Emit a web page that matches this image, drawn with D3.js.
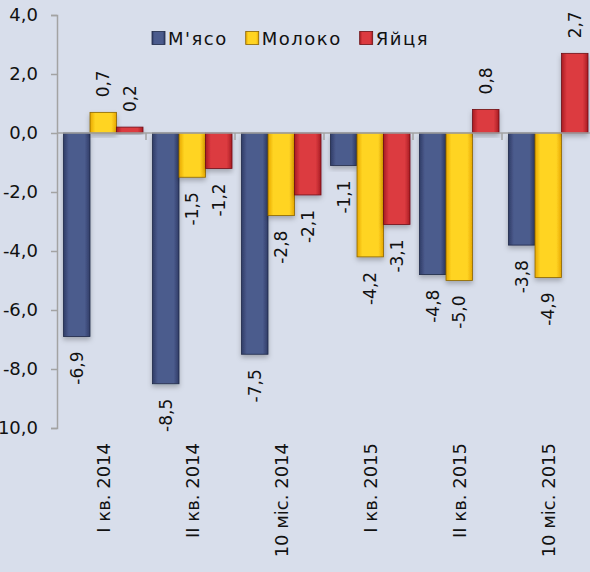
<!DOCTYPE html>
<html>
<head>
<meta charset="utf-8">
<script src="https://cdn.jsdelivr.net/npm/d3@7"></script>
<style>
  html, body { margin: 0; padding: 0; background: #d8deeb; }
  svg { display: block; font-family: "DejaVu Sans", sans-serif; }
</style>
</head>
<body>
<svg id="chart" width="590" height="572"></svg>
<script>
const categories = ['I кв. 2014', 'II кв. 2014', '10 міс. 2014', 'I кв. 2015', 'II кв. 2015', '10 міс. 2015'];
const seriesNames = ["М'ясо", 'Молоко', 'Яйця'];
const meat = [-6.9, -8.5, -7.5, -1.1, -4.8, -3.8];
const milk = [0.7, -1.5, -2.8, -4.2, -5.0, -4.9];
const eggs = [0.2, -1.2, -2.1, -3.1, 0.8, 2.7];
const yTicks = [4, 2, 0, -2, -4, -6, -8, -10];

const colors = [
  { edge: '#2f3c66', mid: '#4b5b8d', stroke: '#1f2947' },
  { edge: '#e8a800', mid: '#ffd422', stroke: '#8a6400' },
  { edge: '#a81c22', mid: '#dc3a40', stroke: '#6e1014' }
];

const svg = d3.select('#chart');
const W = 590, H = 572;
const mLeft = 57, mRight = 591, mTop = 15, mBottom = 428;

const fmt = v => d3.format('.1f')(v).replace('.', ',').replace('−', '-');

const y = d3.scaleLinear().domain([-10, 4]).range([mBottom, mTop]);
const x0 = d3.scaleBand().domain(categories).range([mLeft, mRight]);
const x1 = d3.scaleBand().domain(seriesNames).range([6.5, 86]);

const defs = svg.append('defs');
colors.forEach((c, i) => {
  const g = defs.append('linearGradient').attr('id', 'g' + i).attr('x1', 0).attr('x2', 1).attr('y1', 0).attr('y2', 0);
  g.append('stop').attr('offset', 0).attr('stop-color', c.edge);
  g.append('stop').attr('offset', 0.2).attr('stop-color', c.mid);
  g.append('stop').attr('offset', 0.8).attr('stop-color', c.mid);
  g.append('stop').attr('offset', 1).attr('stop-color', c.edge);
});
const f = defs.append('filter').attr('id', 'shadow').attr('x', '-20%').attr('y', '-20%').attr('width', '140%').attr('height', '140%');
f.append('feDropShadow').attr('dx', 0).attr('dy', 3).attr('stdDeviation', 2.5).attr('flood-color', '#000').attr('flood-opacity', 0.25);

const rows = categories.map((c, i) => ({ cat: c, vals: [meat[i], milk[i], eggs[i]] }));

// bars
const groups = svg.append('g').selectAll('g').data(rows).join('g')
  .attr('transform', d => `translate(${x0(d.cat)},0)`);

groups.selectAll('rect').data(d => d.vals.map((v, j) => ({ v, j }))).join('rect')
  .attr('x', d => x1(seriesNames[d.j]))
  .attr('width', x1.bandwidth())
  .attr('y', d => y(Math.max(0, d.v)))
  .attr('height', d => Math.abs(y(d.v) - y(0)))
  .attr('fill', d => `url(#g${d.j})`)
  .attr('stroke', d => colors[d.j].stroke)
  .attr('stroke-width', 0.8)
  .attr('filter', 'url(#shadow)');

// data labels
groups.selectAll('text').data(d => d.vals.map((v, j) => ({ v, j }))).join('text')
  .attr('transform', d => {
    const cx = x1(seriesNames[d.j]) + x1.bandwidth() / 2;
    const cy = d.v >= 0 ? y(d.v) - 15 : y(d.v) + 15;
    return `translate(${cx},${cy}) rotate(-90)`;
  })
  .attr('text-anchor', d => d.v >= 0 ? 'start' : 'end')
  .attr('dominant-baseline', 'central')
  .attr('font-size', 17)
  .attr('fill', '#111')
  .text(d => fmt(d.v));

// y axis
const yAxis = svg.append('g').attr('transform', `translate(${mLeft},0)`)
  .call(d3.axisLeft(y).tickValues(yTicks).tickSize(6).tickPadding(13).tickFormat(fmt));
yAxis.select('.domain').attr('stroke', '#a3a3a3').attr('stroke-width', 1.5);
yAxis.selectAll('.tick line').attr('stroke', '#a3a3a3').attr('stroke-width', 1.5);
yAxis.selectAll('.tick text').attr('font-size', 18).attr('fill', '#111').attr('font-family', '"DejaVu Sans", sans-serif');

// zero line with category ticks
svg.append('line').attr('x1', mLeft).attr('x2', W).attr('y1', y(0)).attr('y2', y(0))
  .attr('stroke', '#a3a3a3').attr('stroke-width', 1.5);
svg.append('g').selectAll('line').data(categories.slice(1)).join('line')
  .attr('x1', d => x0(d)).attr('x2', d => x0(d))
  .attr('y1', y(0)).attr('y2', y(0) + 7)
  .attr('stroke', '#a3a3a3').attr('stroke-width', 1.5);

// category labels
svg.append('g').selectAll('text').data(categories).join('text')
  .attr('transform', d => `translate(${x0(d) + x0.bandwidth() / 2 + 2},443) rotate(-90)`)
  .attr('text-anchor', 'end')
  .attr('dominant-baseline', 'central')
  .attr('font-size', 18)
  .attr('fill', '#111')
  .text(d => d);

// legend
const legend = svg.append('g').attr('transform', 'translate(152,38)');
let lx = 0;
seriesNames.forEach((s, i) => {
  const item = legend.append('g').attr('transform', `translate(${lx},0)`);
  item.append('rect').attr('x', 0).attr('y', -6.5).attr('width', 13).attr('height', 13)
    .attr('fill', `url(#g${i})`).attr('stroke', colors[i].stroke).attr('stroke-width', 0.8);
  const t = item.append('text').attr('x', 16).attr('y', 0)
    .attr('dominant-baseline', 'central').attr('font-size', 18)
    .attr('letter-spacing', 1.5).attr('fill', '#111').text(s);
  lx += 16 + t.node().getComputedTextLength() + 18;
});
</script>
</body>
</html>
